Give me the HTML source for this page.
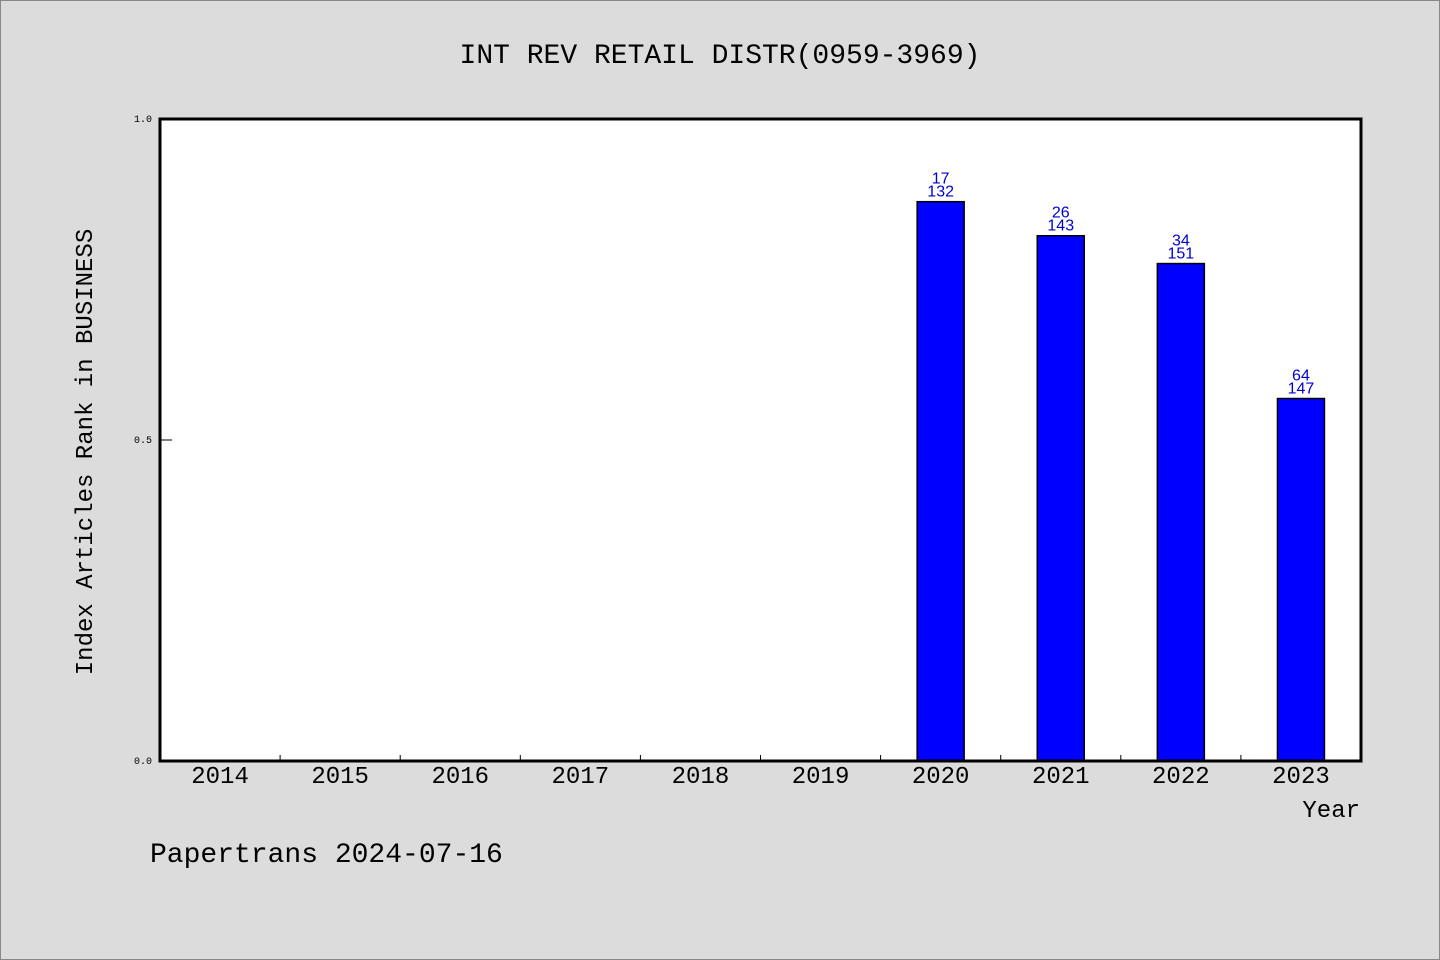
<!DOCTYPE html>
<html><head><meta charset="utf-8"><style>
body{margin:0;background:#dcdcdc;}
svg{display:block;font-family:"Liberation Mono","DejaVu Sans Mono",monospace;}
</style></head><body>
<svg id="chart" width="1440" height="960">
<rect x="0.5" y="0.5" width="1439" height="959" fill="#dcdcdc" stroke="#888"/>
<text x="720" y="63" text-anchor="middle" font-size="28" fill="#000">INT REV RETAIL DISTR(0959-3969)</text>
<rect x="160" y="119" width="1201" height="642" fill="#fff"/>
<g id="marks"></g>
<rect x="160" y="119" width="1201" height="642" fill="none" stroke="#000" stroke-width="3"/>
<text x="92" y="452" transform="rotate(-90 92 452)" text-anchor="middle" font-size="24" fill="#000">Index Articles Rank in BUSINESS</text>
<text x="1360" y="817" text-anchor="end" font-size="24" fill="#000">Year</text>
<text x="150" y="862" font-size="28" fill="#000">Papertrans 2024-07-16</text>
</svg>
<script>
const years = ["2014","2015","2016","2017","2018","2019","2020","2021","2022","2023"];
const ranks = [null,null,null,null,null,null,17,26,34,64];
const totals = [null,null,null,null,null,null,132,143,151,147];
const yTicks = [0.0, 0.5, 1.0];
const yTickLabels = ["0.0","0.5","1.0"];

const X0=160, X1=1361, Y0=761, Y1=119;
const slot=(X1-X0)/years.length;
const xs=i=>X0+slot*(i+0.5);
const ys=v=>Y0-(Y0-Y1)*v;
const NS="http://www.w3.org/2000/svg";
const g=document.getElementById('marks');
function mk(tag,attrs){const e=document.createElementNS(NS,tag);for(const k in attrs)e.setAttribute(k,attrs[k]);g.appendChild(e);return e;}

yTicks.forEach((t,i)=>{
  const y=ys(t);
  const tl=mk('text',{x:152,y:y+3,'text-anchor':'end','font-size':10,fill:'#000'});
  tl.textContent=yTickLabels[i];
  
  
  if(t>0&&t<1){
    const ln=mk('line',{x1:160,x2:172,y1:y,y2:y,stroke:'#000','stroke-width':1});
    
    
  }
});
years.forEach((yr,i)=>{
  if(i>0){
    const bx=X0+slot*i;
    const tk=mk('line',{x1:bx,x2:bx,y1:Y0,y2:Y0-6,stroke:'#000','stroke-width':1});
    
    
  }
  const lb=mk('text',{x:xs(i),y:783,'text-anchor':'middle','font-size':24,fill:'#000'});
  lb.textContent=yr;
  
  
  if(ranks[i]!=null){
    const v=1-ranks[i]/totals[i];
    const top=ys(v);
    const b=mk('rect',{x:xs(i)-23.5,y:top,width:47,height:Y0-top,fill:'#0000ff',stroke:'#000','stroke-width':1.5});
    
    
    const t1=mk('text',{x:xs(i),y:top-18,'text-anchor':'middle','font-size':16,fill:'#0000cc','font-family':'Liberation Sans, sans-serif'});
    t1.textContent=ranks[i];
    
    
    const t2=mk('text',{x:xs(i),y:top-5,'text-anchor':'middle','font-size':16,fill:'#0000cc','font-family':'Liberation Sans, sans-serif'});
    t2.textContent=totals[i];
    
    
  }
});
</script>
</body></html>
